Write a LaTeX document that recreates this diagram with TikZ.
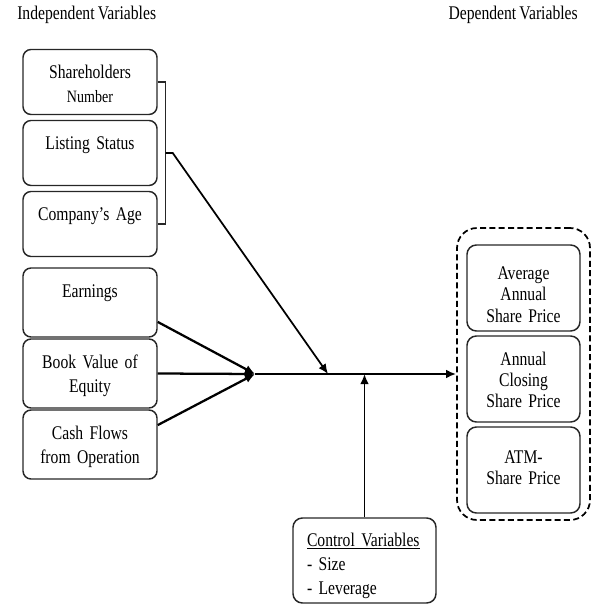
\documentclass[tikz,border=0pt]{standalone}
\usepackage{fontspec}
\setmainfont{Liberation Serif}[FakeStretch=0.81,WordSpace=0.8]
\usepackage{tikz}
\usetikzlibrary{shapes,arrows,arrows.meta}
\tikzstyle{ivbox} = [rectangle,draw=black!85,line width=1.1pt,rounded corners=6pt,text width=100.5pt,align=center,inner sep=0pt,text height=21.75pt,text depth=27pt,font=\fontsize{14.5}{18}\selectfont]
\tikzstyle{dvbox} = [rectangle,draw=black!85,line width=1.1pt,rounded corners=7pt,text width=84.75pt,align=center,inner sep=0pt,text height=21.75pt,text depth=42.75pt,font=\fontsize{14.5}{16}\selectfont]
\tikzstyle{cvbox} = [rectangle,draw=black!85,line width=1.1pt,rounded corners=7pt,text width=86.25pt,align=left,inner xsep=10.5pt,inner ysep=0pt,text height=21pt,text depth=42.75pt,font=\fontsize{14.5}{18}\selectfont]
\tikzstyle{group} = [rectangle,draw=black,line width=1.3pt,dash pattern=on 4.5pt off 2.5pt,rounded corners=15pt,minimum width=99.75pt,minimum height=219pt,inner sep=0pt]
\tikzstyle{title} = [inner sep=0pt,anchor=base west,font=\fontsize{14.5}{18}\selectfont]
\tikzstyle{arrow} = [color=black,line width=1.7pt,-{Latex[length=7.5pt,width=6.5pt]}]
\tikzstyle{bracket} = [color=black!85,line width=1.1pt]

\begin{document}
\begin{tikzpicture}[x=0.75pt,y=-0.75pt,node distance=53.25pt]
	\useasboundingbox (0,0) rectangle (592,605);

	%titles
	\node (IVT) [title] at (17,20) {Independent Variables};
	\node (DVT) [title,anchor=base east] at (578,20) {Dependent Variables};

	%independent variables
	\node (IV1) [ivbox] at (90,82) {Shareholders\\{\fontsize{13}{18}\selectfont Number}};
	\node (IV2) [ivbox,below of=IV1] {Listing Status};
	\node (IV3) [ivbox,below of=IV2] {Company’s Age};
	\node (IV4) [ivbox,text depth=30pt] at (90,302.5) {Earnings};
	\node (IV5) [ivbox,text depth=30pt,below of=IV4] {Book Value of\\Equity};
	\node (IV6) [ivbox,text depth=30pt,below of=IV5] {Cash Flows\\from Operation};

	%dependent variables
	\node (DV) [group] at (523.5,374) {};
	\node (DV1) [dvbox,text height=26pt,text depth=38.5pt] at (523.5,288) {Average\\Annual\\Share Price};
	\node (DV2) [dvbox,below of=DV1,node distance=68.25pt] {Annual\\Closing\\Share Price};
	\node (DV3) [dvbox,text height=27pt,text depth=37.5pt,below of=DV2,node distance=68.25pt] {ATM-\\Share Price};

	%control variables
	\node (CV) [cvbox] at (364.5,560.5) {\underline{Control Variables}\\- Size\\- Leverage};

	%junctions on the main line
	\coordinate (J) at (255,374);
	\coordinate (T1) at (328,374);
	\coordinate (T2) at (CV.north |- J);

	\draw [bracket] (IV1.east) -- ++(8,0) |- (IV3.east);
	\draw [arrow,line width=1.3pt] (IV2.east) ++(8,0) -- ++(7,0) -- (T1);
	\draw [arrow] (IV4.-16) -- (J);
	\draw [arrow] (IV5.east) -- (J);
	\draw [arrow] (IV6.16) -- (J);
	\draw [arrow] (J) -- (DV.west);
	\draw [arrow,line width=1.4pt] (CV.north) -- (T2);
\end{tikzpicture}
\end{document}
